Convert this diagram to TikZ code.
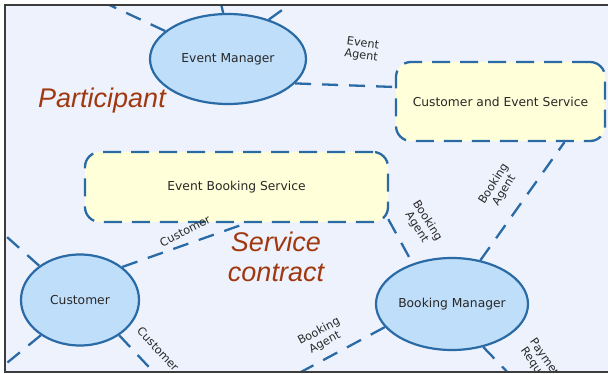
\documentclass[tikz,border=0pt]{standalone}
\usepackage{fontspec}
\setmainfont{DejaVu Sans}
\newfontfamily\italfont{Liberation Sans}
\usetikzlibrary{shapes.geometric}
\definecolor{bgc}{RGB}{238,242,253}
\definecolor{linec}{RGB}{42,106,165}
\definecolor{ellc}{RGB}{191,222,250}
\definecolor{boxc}{RGB}{255,255,217}
\definecolor{txtc}{RGB}{40,40,40}
\definecolor{redc}{RGB}{160,56,16}
\definecolor{framec}{RGB}{60,60,60}
\tikzset{
  part/.style={ellipse, draw=linec, fill=ellc, line width=2.2pt, inner sep=0pt,
    text=txtc, font=\fontsize{12.3}{14}\selectfont},
  svc/.style={rectangle, rounded corners=15pt, draw=linec, fill=boxc, line width=2.3pt,
    dash pattern=on 18pt off 10pt, inner sep=0pt, text=txtc, font=\fontsize{12.3}{14}\selectfont},
  conn/.style={draw=linec, line width=2.3pt, dash pattern=on 16pt off 11pt},
  lbl/.style={text=txtc, font=\fontsize{11.3}{12.5}\selectfont, align=center, inner sep=0pt},
  big/.style={text=redc, font=\italfont\itshape\fontsize{27}{30}\selectfont, align=center, inner sep=0pt}
}
\begin{document}
\begin{tikzpicture}[x=1pt,y=-1pt]
\useasboundingbox (0,0) rectangle (608,374);
\node[text=black, font=\fontsize{19}{20}\selectfont, anchor=base] (fig) at (532,-2.5) {(b)};
\fill[bgc] (5,5) rectangle (608,372);
\begin{scope}
\clip (6,6) rectangle (608,371);
% nodes
\node[part, minimum width=156pt, minimum height=90pt] (em) at (228,59) {Event Manager};
\node[part, minimum width=118pt, minimum height=91pt] (cu) at (80,300) {Customer};
\node[part, minimum width=152pt, minimum height=92pt] (bm) at (452,304) {Booking Manager};
\node[svc, minimum width=209pt, minimum height=79pt] (ces) at (500.5,101.5) {Customer and Event Service};
\node[svc, minimum width=303pt, minimum height=70pt] (ebs) at (236.5,187) {Event Booking Service};
% free ends
\coordinate (tl) at (88,-5);
\coordinate (tt1) at (219,-5);
\coordinate (tt2) at (303,-5);
\coordinate (lu) at (-2,229);
\coordinate (ll) at (-14,380);
\coordinate (lr) at (161,380);
\coordinate (bl) at (286,380);
\coordinate (br) at (515,380);
% connectors
\draw[conn] (em.156) -- (tl);
\draw[conn] (em.96) -- (tt1);
\draw[conn] (em.44) -- (tt2);
\draw[conn] (em.-20) -- ([yshift=14.5pt]ces.west);
\draw[conn] ([xshift=-43pt]bm.north) -- ([xshift=-2pt,yshift=6pt]ebs.south east);
\draw[conn] (bm.57) -- ([xshift=64pt]ces.south);
\draw[conn] (cu.38) -- ([xshift=10pt]ebs.south);
\draw[conn] (cu.140) -- (lu);
\draw[conn] (cu.222) -- (ll);
\draw[conn] (cu.-42) -- (lr);
\draw[conn] (bm.199) -- (bl);
\draw[conn] (bm.-54) -- (br);
% labels
\node[lbl, rotate=-8] (l1) at (362,50) {Event\\Agent};
\node[lbl, rotate=58] (l2) at (499,187) {Booking\\Agent};
\node[lbl, rotate=-58] (l3) at (422,224) {Booking\\Agent};
\node[lbl, rotate=27] (l4) at (185,231) {Customer};
\node[lbl, rotate=-47] (l5) at (158,349) {Customer};
\node[lbl, rotate=28] (l6) at (322,337) {Booking\\Agent};
\node[lbl, rotate=-55] (l7) at (541,364) {Payment\\Request};
\node[big] (pt) at (102,101) {Participant};
\node[big] (sc) at (276,257) {Service\\contract};
\end{scope}
\draw[framec, line width=2pt] (608,5) -- (5,5) -- (5,372) -- (608,372);
\end{tikzpicture}
\end{document}
